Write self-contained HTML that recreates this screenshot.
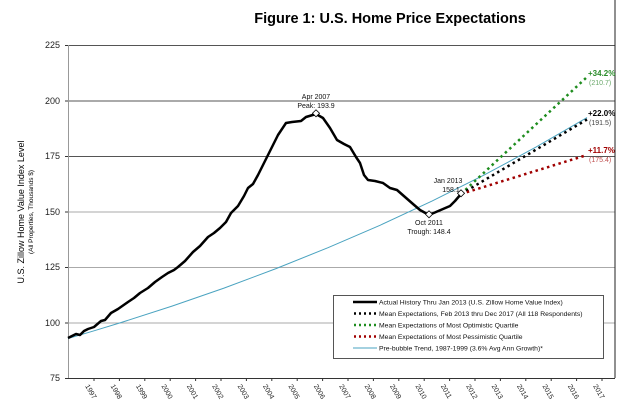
<!DOCTYPE html>
<html><head><meta charset="utf-8"><style>
body{margin:0;background:#fff;width:630px;height:412px;overflow:hidden}
svg{font-family:"Liberation Sans",sans-serif}
</style></head><body>
<svg width="630" height="412" viewBox="0 0 630 412">
<text x="390" y="23" text-anchor="middle" font-size="14.5" font-weight="bold">Figure 1: U.S. Home Price Expectations</text>
<g stroke-width="1">
<line x1="68" y1="45.5" x2="615" y2="45.5" stroke="#555"/>
<line x1="68" y1="101" x2="615" y2="101" stroke="#555"/>
<line x1="68" y1="156.5" x2="615" y2="156.5" stroke="#555"/>
<line x1="68" y1="212" x2="615" y2="212" stroke="#aaa"/>
<line x1="68" y1="267.5" x2="615" y2="267.5" stroke="#aaa"/>
<line x1="68" y1="323" x2="615" y2="323" stroke="#aaa"/>
</g>
<line x1="68.5" y1="45" x2="68.5" y2="378" stroke="#999"/>
<line x1="68" y1="378.5" x2="615" y2="378.5" stroke="#333"/>
<line x1="615" y1="0" x2="615" y2="378" stroke="#222"/>
<g font-size="9" text-anchor="end" fill="#222">
<text x="60" y="48">225</text><text x="60" y="104">200</text><text x="60" y="159">175</text>
<text x="60" y="215">150</text><text x="60" y="270">125</text><text x="60" y="326">100</text><text x="60" y="381">75</text>
</g>
<g stroke="#333">
<line x1="65" y1="45.5" x2="68" y2="45.5"/><line x1="65" y1="101" x2="68" y2="101"/><line x1="65" y1="156.5" x2="68" y2="156.5"/><line x1="65" y1="212" x2="68" y2="212"/><line x1="65" y1="267.5" x2="68" y2="267.5"/><line x1="65" y1="323" x2="68" y2="323"/><line x1="65" y1="378.5" x2="68" y2="378.5"/>
</g>
<text transform="translate(24,212) rotate(-90)" text-anchor="middle" font-size="9">U.S. Zillow Home Value Index Level</text>
<text transform="translate(33,212) rotate(-90)" text-anchor="middle" font-size="6.5">(All Properties, Thousands $)</text>
<g stroke="#333">
<line x1="94" y1="378" x2="94" y2="381"/><line x1="119.4" y1="378" x2="119.4" y2="381"/><line x1="144.8" y1="378" x2="144.8" y2="381"/><line x1="170.2" y1="378" x2="170.2" y2="381"/><line x1="195.6" y1="378" x2="195.6" y2="381"/><line x1="221" y1="378" x2="221" y2="381"/><line x1="246.4" y1="378" x2="246.4" y2="381"/><line x1="271.8" y1="378" x2="271.8" y2="381"/><line x1="297.2" y1="378" x2="297.2" y2="381"/><line x1="322.6" y1="378" x2="322.6" y2="381"/><line x1="348" y1="378" x2="348" y2="381"/><line x1="373.4" y1="378" x2="373.4" y2="381"/><line x1="398.8" y1="378" x2="398.8" y2="381"/><line x1="424.2" y1="378" x2="424.2" y2="381"/><line x1="449.6" y1="378" x2="449.6" y2="381"/><line x1="475" y1="378" x2="475" y2="381"/><line x1="500.4" y1="378" x2="500.4" y2="381"/><line x1="525.8" y1="378" x2="525.8" y2="381"/><line x1="551.2" y1="378" x2="551.2" y2="381"/><line x1="576.6" y1="378" x2="576.6" y2="381"/><line x1="602" y1="378" x2="602" y2="381"/>
</g>
<g font-size="7" fill="#222">
<text transform="translate(85,386) rotate(60)">1997</text>
<text transform="translate(110.4,386) rotate(60)">1998</text>
<text transform="translate(135.8,386) rotate(60)">1999</text>
<text transform="translate(161.2,386) rotate(60)">2000</text>
<text transform="translate(186.6,386) rotate(60)">2001</text>
<text transform="translate(212,386) rotate(60)">2002</text>
<text transform="translate(237.4,386) rotate(60)">2003</text>
<text transform="translate(262.8,386) rotate(60)">2004</text>
<text transform="translate(288.2,386) rotate(60)">2005</text>
<text transform="translate(313.6,386) rotate(60)">2006</text>
<text transform="translate(339,386) rotate(60)">2007</text>
<text transform="translate(364.4,386) rotate(60)">2008</text>
<text transform="translate(389.8,386) rotate(60)">2009</text>
<text transform="translate(415.2,386) rotate(60)">2010</text>
<text transform="translate(440.6,386) rotate(60)">2011</text>
<text transform="translate(466,386) rotate(60)">2012</text>
<text transform="translate(491.4,386) rotate(60)">2013</text>
<text transform="translate(516.8,386) rotate(60)">2014</text>
<text transform="translate(542.2,386) rotate(60)">2015</text>
<text transform="translate(567.6,386) rotate(60)">2016</text>
<text transform="translate(593,386) rotate(60)">2017</text>
</g>
<polyline fill="none" stroke="#4aa3c0" stroke-width="1" points="68,338.5 94,330.8 120,322.9 172,306.1 224,288.1 276,268.6 328,247.7 380,225.3 432,201.1 484,175.1 536,147.1 587,117.6"/>
<polyline fill="none" stroke="#1e8c1e" stroke-width="2.5" stroke-dasharray="2.5 3.5" points="461,194 587,77"/>
<polyline fill="none" stroke="#000" stroke-width="2.5" stroke-dasharray="2.5 3.5" points="461,194 587,119.5"/>
<polyline fill="none" stroke="#a00000" stroke-width="2.5" stroke-dasharray="2.5 3.5" points="461,194 587,155"/>
<polyline fill="none" stroke="#000" stroke-width="2.5" stroke-linejoin="round" points="68,338 72,336 76,334 80,335 84,331 88,329 94,327 101,321 105,320 111,313 118,309 128,302 134,298 140,293 148,288 155,282 162,277 168,273 174,270 178,267 185,261 193,252 200,246 208,237 214,233 220,228 226,222 231,213 238,206 244,196 248,188 253,184 258,175 263,165 268,155 273,145 278,135 286,123 292,122 301,121 306,117 316,114 323,118 330,128 337,140 344,144 350,147 356,157 360,163 364,175 368,180 375,181 383,183 390,188 397,190 405,197 413,204 420,210 429,215 436,212 443,209 450,206 455,201 461,194"/>
<g fill="#fff" stroke="#000" stroke-width="0.8">
<rect x="313" y="111" width="5" height="5" transform="rotate(45 316 114)"/>
<rect x="426" y="212" width="5" height="5" transform="rotate(45 429 215)"/>
<rect x="458" y="191" width="5" height="5" transform="rotate(45 461 194)"/>
</g>
<g font-size="7" text-anchor="middle" fill="#111">
<text x="316" y="99">Apr 2007</text><text x="316" y="108">Peak: 193.9</text>
<text x="429" y="225">Oct 2011</text><text x="429" y="234">Trough: 148.4</text>
<text x="448" y="183">Jan 2013</text><text x="451" y="192">158.1</text>
</g>
<g font-size="8" font-weight="bold">
<text x="588" y="76" fill="#2a8c2a">+34.2%</text><text x="589" y="85" fill="#6aa86a" font-size="7" font-weight="normal">(210.7)</text>
<text x="588" y="116" fill="#000">+22.0%</text><text x="589" y="125" fill="#444" font-size="7" font-weight="normal">(191.5)</text>
<text x="588" y="153" fill="#a00000">+11.7%</text><text x="589" y="162" fill="#c05050" font-size="7" font-weight="normal">(175.4)</text>
</g>
<rect x="333.5" y="295.5" width="270" height="63" fill="#fff" stroke="#555"/>
<g stroke-width="2.5">
<line x1="353" y1="302" x2="377" y2="302" stroke="#000"/>
<line x1="354" y1="313.5" x2="377" y2="313.5" stroke="#000" stroke-dasharray="2 3"/>
<line x1="354" y1="325" x2="377" y2="325" stroke="#1e8c1e" stroke-dasharray="2 3"/>
<line x1="354" y1="336.5" x2="377" y2="336.5" stroke="#a00000" stroke-dasharray="2 3"/>
<line x1="353" y1="348" x2="377" y2="348" stroke="#4aa3c0" stroke-width="1"/>
</g>
<g font-size="6.8" fill="#111">
<text x="379" y="304.5">Actual History Thru Jan 2013  (U.S. Zillow Home Value Index)</text>
<text x="379" y="316">Mean Expectations, Feb 2013 thru Dec 2017  (All 118 Respondents)</text>
<text x="379" y="327.5">Mean Expectations of Most Optimistic Quartile</text>
<text x="379" y="339">Mean Expectations of Most Pessimistic Quartile</text>
<text x="379" y="350.5">Pre-bubble Trend, 1987-1999 (3.6% Avg Ann Growth)*</text>
</g>
</svg>
</body></html>
